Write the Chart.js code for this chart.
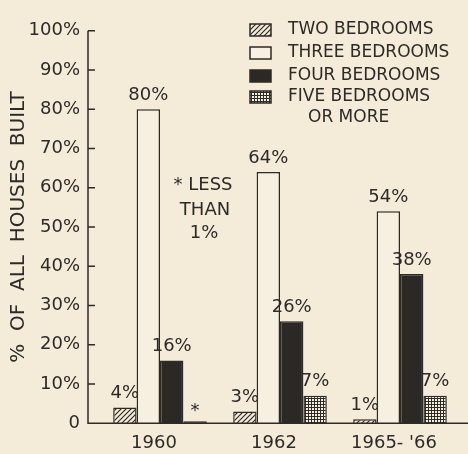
<!DOCTYPE html>
<html>
<head>
<meta charset="utf-8">
<script src="https://cdn.jsdelivr.net/npm/chart.js@4.4.1/dist/chart.umd.min.js"></script>
<style>
  html, body { margin: 0; padding: 0; background: #f4ebd8; }
  #wrap { width: 468px; height: 454px; }
</style>
</head>
<body>
<div id="wrap"><canvas id="myChart"></canvas></div>
<script>
// data
var years = ['1960', '1962', "1965- '66"];
var twoBedrooms = [4, 3, 1];
var threeBedrooms = [80, 64, 54];
var fourBedrooms = [16, 26, 38];
var fiveBedrooms = [0.5, 7, 7];   // 1960 is "less than 1%"
var yTicks = [0, 10, 20, 30, 40, 50, 60, 70, 80, 90, 100];

var ink = '#2e2a26';
var paper = '#f4ebd8';
var fontFam = '"DejaVu Sans", sans-serif';

// fill patterns
function hatch() {
    var c = document.createElement('canvas');
    c.width = 5; c.height = 5;
    var g = c.getContext('2d');
    g.fillStyle = paper; g.fillRect(0, 0, 5, 5);
    g.strokeStyle = ink; g.lineWidth = 1.2;
    g.beginPath();
    g.moveTo(-1, 6); g.lineTo(6, -1);
    g.moveTo(-1, 1); g.lineTo(1, -1);
    g.moveTo(4, 6); g.lineTo(6, 4);
    g.stroke();
    return g.createPattern(c, 'repeat');
}
function grid() {
    var c = document.createElement('canvas');
    c.width = 3; c.height = 3;
    var g = c.getContext('2d');
    g.fillStyle = '#f7f0e0'; g.fillRect(0, 0, 3, 3);
    g.fillStyle = ink;
    g.fillRect(2, 0, 1, 3);
    g.fillRect(0, 2, 3, 1);
    return g.createPattern(c, 'repeat');
}

function pctLabel(v) { return v < 1 ? '*' : v + '%'; }

// axis lines + inward tick marks (chart area starts right of the axis line)
var axisPlugin = {
    id: 'axisLines',
    afterDraw: function (chart) {
        var ctx = chart.ctx, y = chart.scales.y, ax = 88;
        ctx.save();
        ctx.strokeStyle = ink; ctx.lineWidth = 1.5;
        ctx.beginPath();
        ctx.moveTo(ax, y.getPixelForValue(100));
        ctx.lineTo(ax, y.getPixelForValue(0));
        ctx.lineTo(chart.width, y.getPixelForValue(0));
        yTicks.forEach(function (t) {
            if (t === 0) return;
            var py = y.getPixelForValue(t);
            ctx.moveTo(ax, py); ctx.lineTo(ax + 7, py);
        });
        ctx.stroke();
        ctx.restore();
    }
};

// value labels above bars
var valuePlugin = {
    id: 'values',
    afterDatasetsDraw: function (chart) {
        var ctx = chart.ctx;
        ctx.save();
        ctx.fillStyle = ink;
        ctx.font = '18px ' + fontFam;
        ctx.textAlign = 'center';
        ctx.textBaseline = 'bottom';
        chart.data.datasets.forEach(function (ds, i) {
            chart.getDatasetMeta(i).data.forEach(function (el, j) {
                var txt = pctLabel(ds.data[j]);
                ctx.fillText(txt, el.x, el.y - (txt === '*' ? 1 : 5));
            });
        });
        ctx.restore();
    }
};

// legend + note, drawn in the plot like the original
var notePlugin = {
    id: 'note',
    afterDraw: function (chart) {
        var ctx = chart.ctx;
        ctx.save();
        ctx.fillStyle = ink;
        ctx.textBaseline = 'middle';
        ctx.font = '17px ' + fontFam;
        var rowY = [30, 53, 76, 97];
        chart.data.datasets.forEach(function (ds, i) {
            var y = rowY[i];
            ctx.fillStyle = ds.backgroundColor;
            ctx.fillRect(250, y - 6, 21, 12);
            ctx.strokeStyle = ink; ctx.lineWidth = 1.5;
            ctx.strokeRect(250, y - 6, 21, 12);
            ctx.fillStyle = ink;
            ctx.textAlign = 'left';
            var lines = ds.label.split('\n');
            ctx.fillText(lines[0], 288, y);
            if (lines[1]) ctx.fillText(lines[1], 308, y + 21);
        });
        ctx.font = '18px ' + fontFam;
        ctx.textAlign = 'center';
        ctx.fillText('* LESS', 203, 185);
        ctx.fillText('THAN', 205, 210);
        ctx.fillText('1%', 204, 233);
        ctx.restore();
    }
};

var bar = document.getElementById('myChart').getContext('2d');
Chart.defaults.font.family = fontFam;
Chart.defaults.color = ink;

new Chart(bar, {
    type: 'bar',
    data: {
        labels: years,
        datasets: [
            { label: 'TWO BEDROOMS', data: twoBedrooms, backgroundColor: hatch() },
            { label: 'THREE BEDROOMS', data: threeBedrooms, backgroundColor: '#f7f0e0' },
            { label: 'FOUR BEDROOMS', data: fourBedrooms, backgroundColor: '#2b2825' },
            { label: 'FIVE BEDROOMS\nOR MORE', data: fiveBedrooms, backgroundColor: grid() }
        ]
    },
    options: {
        responsive: true,
        maintainAspectRatio: false,
        animation: false,
        layout: { padding: { top: 21, right: 8, left: 0, bottom: 0 } },
        datasets: {
            bar: {
                borderColor: ink,
                borderWidth: 1.5,
                borderSkipped: 'bottom',
                categoryPercentage: 0.78,
                barPercentage: 1.0
            }
        },
        plugins: {
            legend: { display: false },
            tooltip: { enabled: false }
        },
        scales: {
            x: {
                afterFit: function (s) { s.height = 30; },
                grid: { display: false, drawTicks: false },
                border: { display: false },
                ticks: { font: { size: 18 }, padding: 9, labelOffset: -6, maxRotation: 0 }
            },
            y: {
                min: 0,
                max: 100,
                afterFit: function (s) { s.width = 100; },
                afterBuildTicks: function (s) { s.ticks = yTicks.map(function (v) { return { value: v }; }); },
                grid: { display: false, drawTicks: false },
                border: { display: false },
                ticks: {
                    font: { size: 18 },
                    padding: 20,
                    callback: function (v) { return v === 0 ? '0' : v + '%'; }
                },
                title: {
                    display: true,
                    text: '%  OF  ALL  HOUSES  BUILT',
                    font: { size: 20 },
                    padding: { top: 7, bottom: 0 }
                }
            }
        }
    },
    plugins: [axisPlugin, valuePlugin, notePlugin]
});
</script>
</body>
</html>
